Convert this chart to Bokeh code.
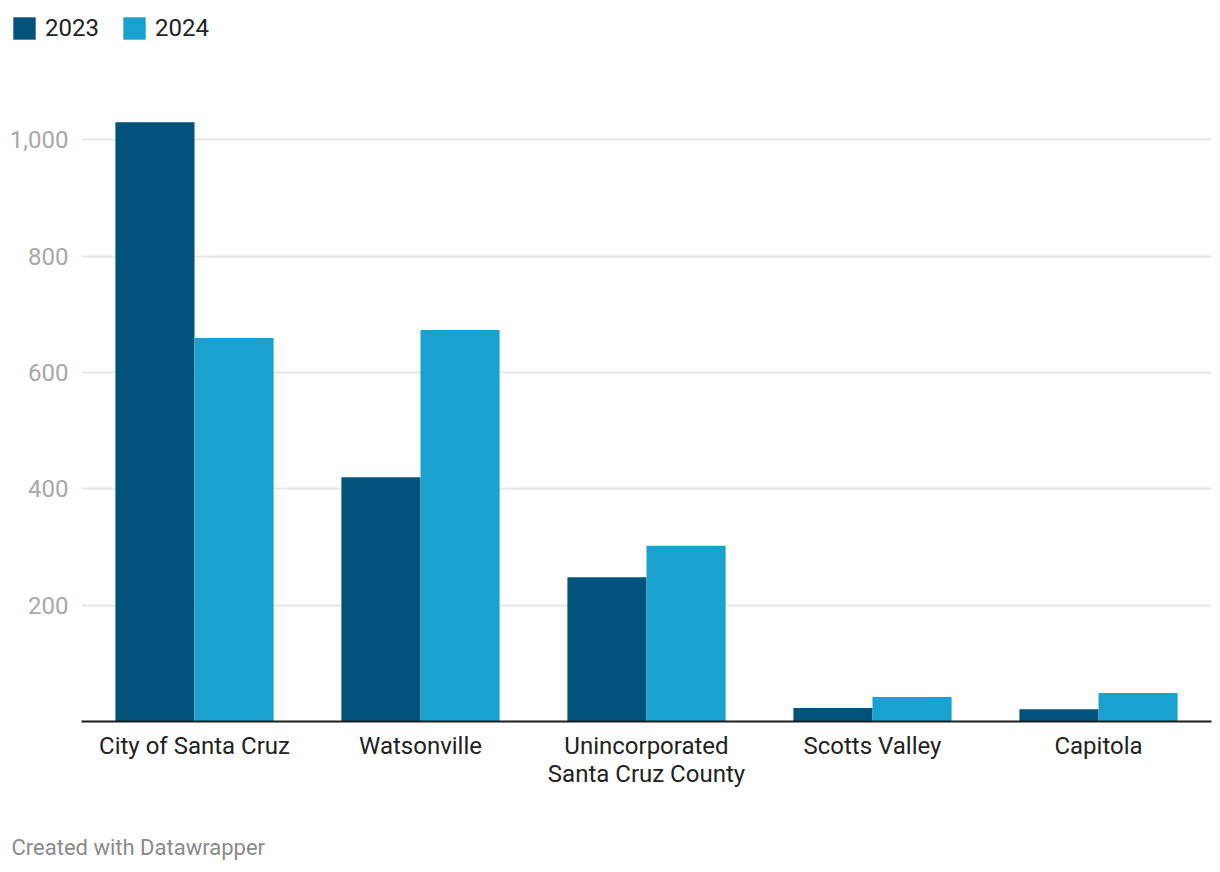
from bokeh.plotting import figure
from bokeh.layouts import column
from bokeh.models import ColumnDataSource, FactorRange, Range1d, FixedTicker, Legend, LegendItem, Label, NumeralTickFormatter
from bokeh.transform import dodge
from bokeh.embed import file_html
from bokeh.resources import INLINE

categories = ["City of Santa Cruz", "Watsonville", "Unincorporated\nSanta Cruz County", "Scotts Valley", "Capitola"]
values_2023 = [1030, 420, 248, 23, 21]
values_2024 = [659, 673, 302, 42, 49]
y_ticks = [200, 400, 600, 800, 1000]
series_names = ["2023", "2024"]
credit = "Created with Datawrapper"

C2023 = "#01537b"
C2024 = "#19a2cf"
FONT = "Roboto"

src = ColumnDataSource(dict(cat=categories, v2023=values_2023, v2024=values_2024))


def strip(height):
    f = figure(width=1220, height=height, output_backend="svg", toolbar_location=None,
               x_axis_type=None, y_axis_type=None,
               min_border_left=0, min_border_right=0, min_border_top=0, min_border_bottom=0,
               x_range=Range1d(0, 1), y_range=Range1d(0, 1))
    f.frame_align = False
    f.outline_line_color = None
    f.xgrid.grid_line_color = None
    f.ygrid.grid_line_color = None
    return f


# ---- legend strip (top) ----
leg = strip(81)
# swatch-only renderers for the legend (zero-height, off-range: nothing drawn in the strip)
swatch = ColumnDataSource(dict(x=[-5], top=[0]))
d1 = leg.vbar(x="x", top="top", width=0.1, source=swatch, fill_color=C2023, line_color=None)
d2 = leg.vbar(x="x", top="top", width=0.1, source=swatch, fill_color=C2024, line_color=None)
legend = Legend(items=[LegendItem(label=series_names[0], renderers=[d1]),
                       LegendItem(label=series_names[1], renderers=[d2])],
                location=(10, 39), orientation="horizontal",
                glyph_width=28, glyph_height=28, label_height=28, label_standoff=7, spacing=21,
                padding=0, margin=0, border_line_color=None, background_fill_alpha=0,
                label_text_font=FONT, label_text_font_size="24px", label_text_color="#222222")
leg.add_layout(legend, "center")

# ---- main chart ----
p = figure(x_range=FactorRange(factors=categories), y_range=Range1d(0, 1100),
           width=1220, height=750, output_backend="svg", toolbar_location=None,
           min_border_left=81, min_border_right=9, min_border_top=0, min_border_bottom=110)
p.frame_align = False
p.outline_line_color = None
p.background_fill_color = "white"
p.border_fill_color = "white"

r1 = p.vbar(x=dodge("cat", -0.175, range=p.x_range), top="v2023", width=0.35, source=src,
            fill_color=C2023, line_color=None)
r2 = p.vbar(x=dodge("cat", 0.175, range=p.x_range), top="v2024", width=0.35, source=src,
            fill_color=C2024, line_color=None)

p.xgrid.grid_line_color = None
p.ygrid.grid_line_color = "#e6e6e6"
p.ygrid.grid_line_width = 2
p.ygrid.ticker = FixedTicker(ticks=y_ticks)

p.yaxis.ticker = FixedTicker(ticks=y_ticks)
p.yaxis.formatter = NumeralTickFormatter(format="0,0")
p.yaxis.axis_line_color = None
p.yaxis.major_tick_line_color = None
p.yaxis.minor_tick_line_color = None
p.yaxis.major_tick_out = 0
p.yaxis.major_tick_in = 0
p.yaxis.minor_tick_out = 0
p.yaxis.major_label_text_font = FONT
p.yaxis.major_label_text_font_size = "24px"
p.yaxis.major_label_text_color = "#a8a8a8"
p.yaxis.major_label_standoff = 13

p.xaxis.axis_line_color = "#1d1d1d"
p.xaxis.axis_line_width = 2
p.xaxis.major_tick_line_color = None
p.xaxis.minor_tick_line_color = None
p.xaxis.major_tick_out = 0
p.xaxis.major_tick_in = 0
p.xaxis.major_label_text_font = FONT
p.xaxis.major_label_text_font_size = "24px"
p.xaxis.major_label_text_color = "#222222"
p.xaxis.major_label_text_line_height = 1.0
p.xaxis.major_label_standoff = 10

# ---- footer strip ----
foot = strip(41)
foot.add_layout(Label(x=11, y=25, x_units="screen", y_units="screen", text=credit,
                      text_font=FONT, text_font_size="22px", text_color="#8a8a8a",
                      text_baseline="middle"))

layout = column(leg, p, foot, spacing=0)
open("out.html", "w").write(file_html(layout, INLINE))
